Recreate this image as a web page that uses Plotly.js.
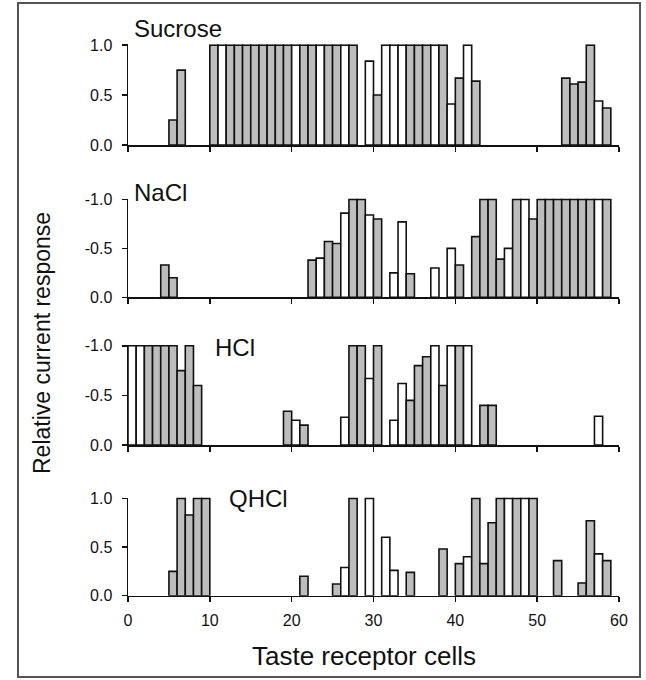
<!DOCTYPE html>
<html><head><meta charset="utf-8">
<script src="https://cdn.plot.ly/plotly-3.0.1.min.js"></script>
<style>html,body{margin:0;padding:0;background:#fff;}#chart{width:646px;height:680px;}</style>
</head><body><div id="chart"></div>
<script>
// ---- data (cell n occupies the interval n-1 .. n on the x axis) ----
const sucroseCells  = [6,7,11,12,13,14,15,16,17,18,19,20,21,22,23,24,25,26,27,28,30,31,32,33,34,35,36,37,38,39,40,41,42,43,54,55,56,57,58,59];
const sucroseValues = [0.25,0.75,1,1,1,1,1,1,1,1,1,1,1,1,1,1,1,1,1,1,0.84,0.5,1,1,1,1,1,1,1,1,0.41,0.67,1,0.64,0.67,0.61,0.63,1,0.44,0.37];
const sucroseKinds  = ['G','G','G','W','G','G','G','G','G','G','G','G','W','G','G','W','G','G','W','G','W','G','W','W','W','G','G','G','W','G','W','G','W','G','G','G','G','G','W','G'];

const naclCells  = [5,6,23,24,25,26,27,28,29,30,31,33,34,35,38,40,41,43,44,45,46,47,48,49,50,51,52,53,54,55,56,57,58,59];
const naclValues = [-0.33,-0.2,-0.38,-0.4,-0.57,-0.55,-0.86,-1,-1,-0.84,-0.8,-0.25,-0.77,-0.24,-0.3,-0.5,-0.33,-0.62,-1,-1,-0.39,-0.5,-1,-1,-0.8,-1,-1,-1,-1,-1,-1,-1,-1,-1];
const naclKinds  = ['G','G','G','W','G','G','W','G','G','W','G','W','W','G','W','W','G','G','G','G','G','W','G','W','G','G','G','G','G','G','G','G','W','G'];

const hclCells  = [1,2,3,4,5,6,7,8,9,20,21,22,27,28,29,30,31,33,34,35,36,37,38,39,40,41,42,44,45,58];
const hclValues = [-1,-1,-1,-1,-1,-1,-0.75,-1,-0.6,-0.34,-0.25,-0.2,-0.28,-1,-1,-0.67,-1,-0.25,-0.62,-0.45,-0.8,-0.89,-1,-0.6,-1,-1,-1,-0.4,-0.4,-0.29];
const hclKinds  = ['W','W','G','G','G','G','G','G','G','G','W','G','W','G','G','W','G','W','W','G','G','G','W','G','W','G','W','G','G','W'];

const qhclCells  = [6,7,8,9,10,22,26,27,28,30,32,33,35,39,41,42,43,44,45,46,47,48,49,50,53,56,57,58,59];
const qhclValues = [0.25,1,0.83,1,1,0.2,0.12,0.29,1,1,0.6,0.26,0.24,0.48,0.33,0.4,1,0.33,0.75,1,1,1,1,1,0.36,0.13,0.77,0.43,0.36];
const qhclKinds  = ['G','G','G','G','G','G','G','W','G','W','W','W','G','G','G','W','G','G','G','G','W','G','W','G','G','G','G','W','G'];

const panelNames = ['Sucrose','NaCl','HCl','QHCl'];
const xTickVals  = [0,10,20,30,40,50,60];
const xTickText  = ['0','10','20','30','40','50','60'];
const posTickVals = [0,0.5,1];
const posTickText = ['0.0','0.5','1.0'];
const negTickVals = [0,-0.5,-1];
const negTickText = ['0.0','-0.5','-1.0'];

// ---- styling ----
const FONT = 'Liberation Sans, Arial, Helvetica, sans-serif';
const GRAY = '#bdbdbd';
const WHITE = '#ffffff';
const W = 646, H = 680, L = 128, R = 27;
const pw = W - L - R;
const px2x = p => (p - L) / pw;
const py2y = p => 1 - p / H;

const sets = [
  [sucroseCells, sucroseValues, sucroseKinds],
  [naclCells, naclValues, naclKinds],
  [hclCells, hclValues, hclKinds],
  [qhclCells, qhclValues, qhclKinds]
];
// pixel rows of value 0 and value 1 for each panel
const rows = [[145,45],[297.3,199.3],[445,345.7],[595.7,498.3]];

const traces = sets.map((s, i) => ({
  type: 'bar',
  x: s[0], y: s[1],
  width: 1, offset: -1,
  marker: {color: s[2].map(k => k === 'G' ? GRAY : WHITE), line: {color: '#111', width: 1.6}},
  xaxis: i === 0 ? 'x' : 'x' + (i + 1),
  yaxis: i === 0 ? 'y' : 'y' + (i + 1),
  hoverinfo: 'skip', showlegend: false
}));

const layout = {
  width: W, height: H,
  margin: {l: L, r: R, t: 0, b: 0},
  paper_bgcolor: '#fff', plot_bgcolor: 'rgba(0,0,0,0)',
  bargap: 0,
  font: {family: FONT, color: '#111'},
  showlegend: false,
  annotations: [],
  shapes: [{type: 'rect', xref: 'paper', yref: 'paper',
    x0: px2x(18), x1: px2x(640), y0: py2y(677), y1: py2y(3),
    line: {color: '#555', width: 2}}]
};

for (let i = 0; i < 4; i++) {
  const xa = i === 0 ? 'xaxis' : 'xaxis' + (i + 1);
  const ya = i === 0 ? 'yaxis' : 'yaxis' + (i + 1);
  const yid = i === 0 ? 'y' : 'y' + (i + 1);
  const xid = i === 0 ? 'x' : 'x' + (i + 1);
  const neg = (i === 1 || i === 2);
  layout[xa] = {
    domain: [0, 1], anchor: yid, range: [0, 60],
    showline: true, linecolor: '#111', linewidth: 1.5,
    ticks: 'outside', ticklen: 5, tickwidth: 1.5, tickcolor: '#111',
    tickvals: xTickVals, ticktext: xTickText, ticklabelstandoff: 5,
    showticklabels: i === 3, tickfont: {size: 16, family: FONT, color: '#111'},
    showgrid: false, zeroline: false, fixedrange: true
  };
  layout[ya] = {
    domain: [py2y(rows[i][0]), py2y(rows[i][1]) + 0.001], anchor: xid,
    range: neg ? [0, -1.008] : [0, 1.008],
    showline: true, linecolor: '#111', linewidth: 1.5,
    ticks: 'outside', ticklen: 5, tickwidth: 1.5, tickcolor: '#111',
    tickvals: neg ? negTickVals : posTickVals, ticktext: neg ? negTickText : posTickText,
    ticklabelstandoff: 6,
    tickfont: {size: 16, family: FONT, color: '#111'},
    showgrid: false, zeroline: false, fixedrange: true
  };
}

const labelPos = [[132, 28.5], [132, 192], [213, 347], [227, 499]];
panelNames.forEach((n, i) => layout.annotations.push({
  text: n, xref: 'paper', yref: 'paper', x: px2x(labelPos[i][0]), y: py2y(labelPos[i][1]),
  xanchor: 'left', yanchor: 'middle', showarrow: false,
  font: {size: 24, family: FONT, color: '#111'}
}));
layout.annotations.push({
  text: 'Taste receptor cells', xref: 'paper', yref: 'paper', x: px2x(364), y: py2y(656),
  xanchor: 'center', yanchor: 'middle', showarrow: false,
  font: {size: 26, family: FONT, color: '#111'}
});
layout.annotations.push({
  text: 'Relative current response', xref: 'paper', yref: 'paper', x: px2x(42), y: py2y(343),
  xanchor: 'center', yanchor: 'middle', showarrow: false, textangle: -90,
  font: {size: 23, family: FONT, color: '#111'}
});

Plotly.newPlot('chart', traces, layout, {displayModeBar: false, staticPlot: true});
</script>
</body></html>
